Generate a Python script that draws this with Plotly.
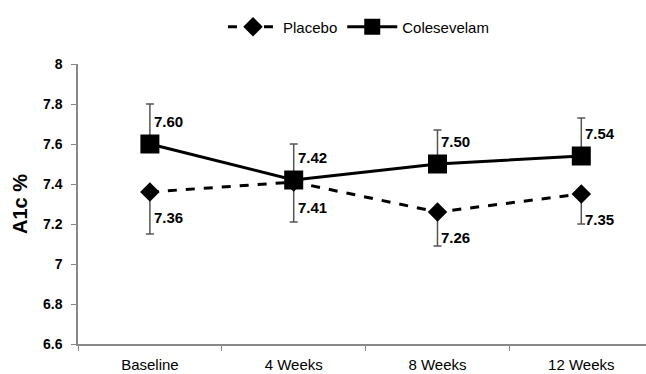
import plotly.graph_objects as go

categories = ["Baseline", "4 Weeks", "8 Weeks", "12 Weeks"]
placebo = [7.36, 7.41, 7.26, 7.35]
placebo_err_minus = [0.21, 0.20, 0.17, 0.15]
colesevelam = [7.60, 7.42, 7.50, 7.54]
colesevelam_err_plus = [0.20, 0.18, 0.17, 0.19]
y_ticks = [6.6, 6.8, 7.0, 7.2, 7.4, 7.6, 7.8, 8.0]
y_tick_text = ["6.6", "6.8", "7", "7.2", "7.4", "7.6", "7.8", "8"]

FONT = "Liberation Sans, Arial, sans-serif"

fig = go.Figure()
fig.add_trace(go.Scatter(
    x=categories, y=placebo, name="Placebo", mode="lines+markers",
    line=dict(color="black", width=3, dash="dash"),
    marker=dict(symbol="diamond", size=15, color="black"),
    error_y=dict(type="data", symmetric=False, array=[0]*4, arrayminus=placebo_err_minus,
                 color="#555555", thickness=1.5, width=4),
))
fig.add_trace(go.Scatter(
    x=categories, y=colesevelam, name="Colesevelam", mode="lines+markers",
    line=dict(color="black", width=3),
    marker=dict(symbol="square", size=19, color="black"),
    error_y=dict(type="data", symmetric=False, array=colesevelam_err_plus, arrayminus=[0]*4,
                 color="#555555", thickness=1.5, width=4),
))

for i, v in enumerate(colesevelam):
    fig.add_annotation(x=i, y=v + 0.115, text=f"{v:.2f}", showarrow=False,
                       xanchor="left", xshift=2, font=dict(family=FONT, size=15, color="black", weight="bold"))
for i, v in enumerate(placebo):
    fig.add_annotation(x=i, y=v - 0.125, text=f"{v:.2f}", showarrow=False,
                       xanchor="left", xshift=2, font=dict(family=FONT, size=15, color="black", weight="bold"))

fig.update_layout(
    width=646, height=374,
    margin=dict(l=78, r=0, t=64, b=30),
    paper_bgcolor="white", plot_bgcolor="white",
    font=dict(family=FONT, color="black"),
    showlegend=True,
    legend=dict(orientation="h", x=0.555, xref="container", xanchor="center",
                y=0.972, yref="container", yanchor="top",
                font=dict(size=15), itemwidth=50, tracegroupgap=0),
    xaxis=dict(type="category", range=[-0.5, 3.45], showline=True, linecolor="#888888", linewidth=1.5,
               ticks="outside", tickson="boundaries", tickcolor="#888888", ticklen=5,
               showgrid=False, tickfont=dict(size=15), zeroline=False, ticklabelstandoff=6),
    yaxis=dict(range=[6.6, 8.0], tickvals=y_ticks, ticktext=y_tick_text,
               showline=True, linecolor="#888888", linewidth=1.5, ticks="outside", tickcolor="#888888",
               ticklen=5, showgrid=False, zeroline=False, ticklabelstandoff=6,
               tickfont=dict(size=14, weight="bold"),
               title=dict(text="A1c %", font=dict(size=20, weight="bold"), standoff=10)),
)

fig.write_html("out.html")
